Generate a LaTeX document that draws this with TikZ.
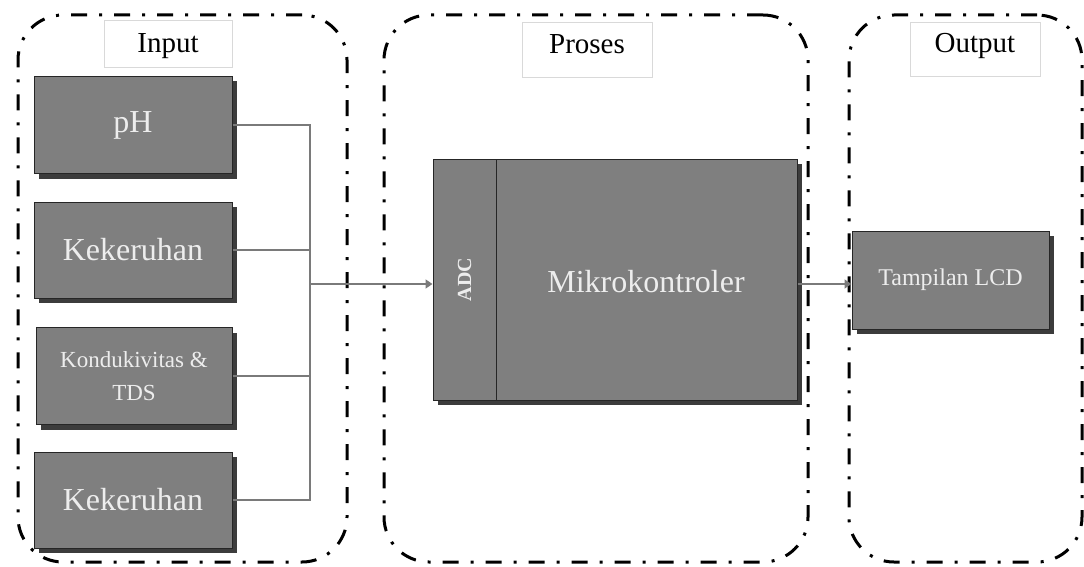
\documentclass[tikz,border=0pt]{standalone}
\usepackage{fontspec}
\usepackage{graphicx}
\setmainfont{Liberation Serif}
\usetikzlibrary{shadows,arrows.meta}
\definecolor{boxgray}{HTML}{7F7F7F}
\definecolor{shadowgray}{HTML}{3C3C3C}
\definecolor{conngray}{HTML}{7A7A7A}
\begin{document}
\begin{tikzpicture}[x=1pt,y=-1pt,
  group/.style={draw=black, line width=3pt, dash pattern=on 16pt off 12pt on 3pt off 12pt,
    rounded corners=45pt, inner sep=0pt},
  blk/.style={fill=boxgray, draw=black!85, line width=1pt, text=white!93!black, inner sep=0pt,
    align=center, drop shadow={shadow xshift=5pt, shadow yshift=-5pt, fill=shadowgray, opacity=1}},
  flatblk/.style={fill=boxgray, draw=black!85, line width=1pt, text=white!93!black, inner sep=0pt, align=center},
  lbl/.style={fill=white, draw=black!15, line width=0.8pt, inner sep=0pt, font=\fontsize{29}{30}\selectfont},
  conn/.style={draw=conngray, line width=1.5pt},
  arr/.style={conn, -{Triangle[width=9pt,length=7pt]}},
  big/.style={font=\fontsize{32}{34}\selectfont},
  mid/.style={font=\fontsize{23}{33}\selectfont}
]
\useasboundingbox (0,0) rectangle (1084,567);

% groups
\node[group, minimum width=329pt, minimum height=547pt] (gin) at (182.5,288.5) {};
\node[group, minimum width=424pt, minimum height=547pt] (gpro) at (596,288.5) {};
\node[group, minimum width=233pt, minimum height=547pt] (gout) at (965.5,288.5) {};

% labels
\node[lbl, minimum width=128pt, minimum height=47pt, text height=20pt, text depth=2pt] (lin) at (168,43.5) {Input};
\node[lbl, minimum width=130pt, minimum height=55pt, text height=20pt, text depth=12pt] (lpro) at (587,49.5) {Proses};
\node[lbl, minimum width=130pt, minimum height=54pt, text height=20pt, text depth=12pt] (lout) at (975,49) {Output};

% input blocks
\node[blk, big, minimum width=198pt, minimum height=97pt] (ph) at (133,125) {pH};
\node[blk, big, minimum width=198pt, minimum height=96pt] (kek1) at (133,250) {Kekeruhan};
\node[blk, mid, minimum width=196pt, minimum height=97pt] (kond) at (134,376) {Kondukivitas \&\\TDS};
\node[blk, big, minimum width=198pt, minimum height=96pt] (kek2) at (133,500) {Kekeruhan};

% processing block
\node[blk, minimum width=364pt, minimum height=241pt] (mcu) at (615,279.5) {};
\node[flatblk, minimum width=63pt, minimum height=241pt] (adc) at (464.5,279.5)
  {\rotatebox{90}{\fontsize{20}{22}\selectfont\bfseries ADC}};
\node[big, text=white!93!black] (mtxt) at (646,282) {Mikrokontroler};

% output block
\node[blk, font=\fontsize{24}{26}\selectfont, minimum width=197pt, minimum height=98pt] (lcd) at (950.5,280) {Tampilan LCD};

% connectors
\coordinate (j) at (310,284);
\draw[conn] (ph.east) -| (j);
\draw[conn] (kek2.east) -| (j);
\draw[conn] (kek1.east) -- (kek1.east -| j);
\draw[conn] (kond.east) -- (kond.east -| j);
\draw[arr] (j) -- (j -| adc.west);
\draw[arr] (mcu.east |- j) -- (j -| lcd.west);
\end{tikzpicture}
\end{document}
